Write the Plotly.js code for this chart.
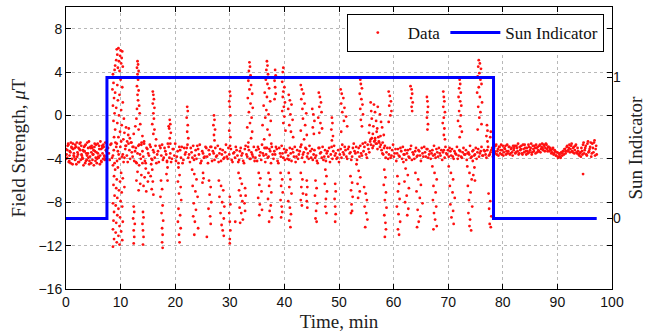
<!DOCTYPE html>
<html>
<head>
<meta charset="utf-8">
<script src="https://cdn.plot.ly/plotly-3.0.1.min.js"></script>
<style>html,body{margin:0;padding:0;background:#fff;}#chart{width:646px;height:334px;}</style>
</head>
<body>
<div id="chart"></div>
<script>
// ---- Data (time in min, field in microtesla) ----
// Before the sun period: dense band around -3.5
const preTimeA = [0,0.2,0.4,0.6,0.8,1,1.2,1.4,1.6,1.8,
  2,2.2,2.4,2.6,2.8,3,3.2,3.4,3.6,3.8,
  4,4.2,4.4,4.6,4.8,5,5.2,5.4,5.6,5.8,
  6,6.2,6.4,6.6,6.8,7,7.2,7.4];
const preFieldA = [-3.1,-3.9,-2.6,-4.2,-3.4,-2.9,-4.5,-3.7,-3.0,-4.0,
  -2.5,-3.6,-4.3,-3.2,-2.8,-3.9,-4.6,-3.3,-2.7,-4.1,
  -3.5,-2.4,-3.8,-4.4,-3.0,-3.6,-2.9,-4.2,-3.4,-2.6,
  -3.9,-4.5,-3.1,-2.8,-4.0,-3.7,-2.5,-3.3];
const preTimeB = [0.1,0.3,0.5,0.7,0.9,1.1,1.3,1.5,1.7,1.9,
  2.1,2.3,2.5,2.7,2.9,3.1,3.3,3.5,3.7,3.9,
  4.1,4.3,4.5,4.7,4.9,5.1,5.3,5.5,5.7,5.9,
  6.1,6.3,6.5,6.7,6.9,7.1,7.3];
const preFieldB = [-3.6,-2.8,-4.3,-3.3,-2.5,-4.0,-3.1,-3.8,-2.7,-4.5,
  -3.4,-3.0,-2.6,-4.1,-3.7,-3.2,-2.9,-4.4,-3.5,-2.5,
  -3.9,-4.2,-3.0,-2.8,-3.6,-4.6,-3.3,-2.7,-4.0,-3.8,
  -3.1,-2.4,-4.3,-3.5,-2.9,-4.1,-3.2];
const preTimeC = [0.05,0.25,0.45,0.65,0.85,1.05,1.25,1.45,1.65,1.85,
  2.05,2.25,2.45,2.65,2.85,3.05,3.25,3.45,3.65,3.85,
  4.05,4.25,4.45,4.65,4.85,5.05,5.25,5.45,5.65,5.85,
  6.05,6.25,6.45,6.65,6.85,7.05,7.25];
const preFieldC = [-4.0,-3.2,-2.7,-3.7,-4.4,-3.0,-2.6,-3.5,-4.1,-2.9,
  -3.8,-4.3,-3.1,-2.5,-3.6,-4.0,-3.3,-2.8,-4.2,-3.7,
  -3.0,-4.5,-2.9,-3.4,-4.1,-3.2,-2.6,-3.9,-4.4,-3.5,
  -2.8,-3.7,-4.2,-3.0,-2.7,-3.8,-4.0];

// Sun period: baseline band
const sunTimeA = [7.7,8,8.3,8.6,8.9,9.2,9.5,9.8,10.1,10.4,
  10.7,11,11.3,11.6,11.9,12.2,12.5,12.8,13.1,13.4,
  13.7,14,14.3,14.6,14.9,15.2,15.5,15.8,16.1,16.4,
  16.7,17,17.3,17.6,17.9,18.2,18.5,18.8,19.1,19.4,
  19.7,20,20.3,20.6,20.9,21.2,21.5,21.8,22.1,22.4,
  22.7,23,23.3,23.6,23.9,24.2,24.5,24.8,25.1,25.4,
  25.7,26,26.3,26.6,26.9,27.2,27.5,27.8,28.1,28.4,
  28.7,29,29.3,29.6,29.9,30.2,30.5,30.8,31.1,31.4,
  31.7,32,32.3,32.6,32.9,33.2,33.5,33.8,34.1,34.4,
  34.7,35,35.3,35.6,35.9,36.2,36.5,36.8,37.1,37.4,
  37.7,38,38.3,38.6,38.9,39.2,39.5,39.8,40.1,40.4,
  40.7,41,41.3,41.6,41.9,42.2,42.5,42.8,43.1,43.4,
  43.7,44,44.3,44.6,44.9,45.2,45.5,45.8,46.1,46.4,
  46.7,47,47.3,47.6,47.9,48.2,48.5,48.8,49.1,49.4,
  49.7,50,50.3,50.6,50.9,51.2,51.5,51.8,52.1,52.4,
  52.7,53,53.3,53.6,53.9,54.2,54.5,54.8,55.1,55.4,
  55.7,56,56.3,56.6,56.9,57.2,57.5,57.8,58.1,58.4,
  58.7,59,59.3,59.6,59.9,60.2,60.5,60.8,61.1,61.4,
  61.7,62,62.3,62.6,62.9,63.2,63.5,63.8,64.1,64.4,
  64.7,65,65.3,65.6,65.9,66.2,66.5,66.8,67.1,67.4,
  67.7,68,68.3,68.6,68.9,69.2,69.5,69.8,70.1,70.4,
  70.7,71,71.3,71.6,71.9,72.2,72.5,72.8,73.1,73.4,
  73.7,74,74.3,74.6,74.9,75.2,75.5,75.8,76.1,76.4,
  76.7,77,77.3,77.6,77.9,78.2];
const sunFieldA = [-3.0,-4.1,-2.6,-3.7,-4.4,-2.9,-3.3,-4.0,-2.4,-3.6,
  -3.9,-2.8,-4.3,-3.2,-2.5,-3.8,-4.2,-3.0,-3.5,-2.7,
  -4.0,-3.3,-2.6,-4.4,-3.1,-3.7,-2.9,-4.1,-3.4,-2.8,
  -3.6,-4.3,-3.0,-2.7,-3.9,-3.3,-4.2,-2.9,-3.5,-4.0,
  -3.1,-2.6,-3.8,-4.4,-3.2,-2.9,-4.1,-3.6,-3.0,-3.9,
  -4.3,-3.4,-2.8,-3.7,-4.0,-3.1,-2.7,-4.2,-3.5,-3.8,
  -3.0,-4.4,-3.6,-2.9,-3.3,-4.1,-3.8,-2.8,-3.5,-4.2,
  -3.2,-3.9,-2.7,-4.0,-3.6,-3.1,-4.3,-3.4,-2.9,-3.7,
  -4.1,-3.0,-3.5,-4.4,-2.8,-3.8,-3.2,-4.0,-3.6,-2.9,
  -3.9,-4.2,-3.1,-3.4,-2.7,-3.7,-4.3,-3.0,-3.8,-3.3,
  -2.9,-4.0,-3.6,-3.1,-4.4,-3.5,-2.8,-3.9,-4.1,-3.2,
  -3.7,-3.0,-4.2,-3.4,-2.9,-3.8,-4.0,-3.3,-2.7,-3.6,
  -4.3,-3.1,-3.5,-2.8,-3.9,-4.1,-3.2,-3.7,-4.4,-3.0,
  -3.4,-2.9,-3.8,-4.2,-3.3,-3.0,-3.6,-4.0,-2.8,-3.5,
  -3.9,-4.3,-3.1,-2.7,-3.6,-3.2,-4.0,-2.9,-3.4,-3.8,
  -2.6,-3.5,-4.1,-3.0,-2.8,-3.7,-3.3,-2.5,-3.9,-3.1,
  -2.4,-2.1,-2.8,-2.3,-2.6,-2.0,-2.9,-3.2,-3.6,-2.8,
  -3.4,-4.0,-3.0,-3.7,-2.7,-3.5,-4.2,-3.1,-3.8,-3.3,
  -2.9,-3.6,-4.1,-3.2,-3.9,-2.8,-3.4,-4.0,-3.0,-3.7,
  -3.3,-4.2,-3.5,-2.9,-3.8,-3.1,-3.6,-4.0,-3.2,-2.8,
  -3.9,-3.4,-3.0,-3.7,-4.1,-3.2,-2.9,-3.6,-3.8,-3.3,
  -3.1,-4.0,-3.5,-2.9,-3.7,-3.3,-3.9,-3.0,-3.6,-4.1,
  -3.4,-2.8,-3.8,-3.2,-3.6,-4.0,-3.1,-3.5,-2.9,-3.7,
  -3.3,-3.9,-2.9,-3.6,-3.2,-3.8];
const sunTimeB = [7.85,8.15,8.45,8.75,9.05,9.35,9.65,9.95,10.25,10.55,
  10.85,11.15,11.45,11.75,12.05,12.35,12.65,12.95,13.25,13.55,
  13.85,14.15,14.45,14.75,15.05,15.35,15.65,15.95,16.25,16.55,
  16.85,17.15,17.45,17.75,18.05,18.35,18.65,18.95,19.25,19.55,
  19.85,20.15,20.45,20.75,21.05,21.35,21.65,21.95,22.25,22.55,
  22.85,23.15,23.45,23.75,24.05,24.35,24.65,24.95,25.25,25.55,
  25.85,26.15,26.45,26.75,27.05,27.35,27.65,27.95,28.25,28.55,
  28.85,29.15,29.45,29.75,30.05,30.35,30.65,30.95,31.25,31.55,
  31.85,32.15,32.45,32.75,33.05,33.35,33.65,33.95,34.25,34.55,
  34.85,35.15,35.45,35.75,36.05,36.35,36.65,36.95,37.25,37.55,
  37.85,38.15,38.45,38.75,39.05,39.35,39.65,39.95,40.25,40.55,
  40.85,41.15,41.45,41.75,42.05,42.35,42.65,42.95,43.25,43.55,
  43.85,44.15,44.45,44.75,45.05,45.35,45.65,45.95,46.25,46.55,
  46.85,47.15,47.45,47.75,48.05,48.35,48.65,48.95,49.25,49.55,
  49.85,50.15,50.45,50.75,51.05,51.35,51.65,51.95,52.25,52.55,
  52.85,53.15,53.45,53.75,54.05,54.35,54.65,54.95,55.25,55.55,
  55.85,56.15,56.45,56.75,57.05,57.35,57.65,57.95,58.25,58.55,
  58.85,59.15,59.45,59.75,60.05,60.35,60.65,60.95,61.25,61.55,
  61.85,62.15,62.45,62.75,63.05,63.35,63.65,63.95,64.25,64.55,
  64.85,65.15,65.45,65.75,66.05,66.35,66.65,66.95,67.25,67.55,
  67.85,68.15,68.45,68.75,69.05,69.35,69.65,69.95,70.25,70.55,
  70.85,71.15,71.45,71.75,72.05,72.35,72.65,72.95,73.25,73.55,
  73.85,74.15,74.45,74.75,75.05,75.35,75.65,75.95,76.25,76.55,
  76.85,77.15,77.45,77.75,78.05];
const sunFieldB = [-3.5,-2.7,-3.9,-3.2,-2.5,-4.2,-3.6,-2.9,-3.8,-4.3,
  -3.1,-3.7,-2.6,-4.0,-3.4,-2.9,-3.3,-4.4,-2.8,-3.6,
  -2.5,-3.8,-4.2,-3.0,-3.5,-2.7,-4.0,-3.2,-3.9,-4.4,
  -3.3,-2.8,-3.7,-4.1,-3.0,-3.6,-2.6,-3.9,-4.3,-3.1,
  -3.7,-4.2,-3.3,-2.9,-3.9,-4.4,-3.0,-3.4,-2.7,-3.6,
  -3.0,-3.9,-4.1,-3.2,-2.8,-3.6,-4.4,-3.3,-3.9,-2.9,
  -3.8,-3.2,-2.9,-4.2,-3.5,-3.0,-3.7,-4.3,-3.1,-3.6,
  -4.0,-3.4,-3.8,-3.0,-2.8,-4.1,-3.5,-3.9,-3.2,-4.3,
  -3.3,-3.7,-4.2,-3.1,-3.6,-2.9,-4.0,-3.4,-3.8,-4.2,
  -3.2,-2.9,-3.7,-4.1,-3.5,-3.0,-3.6,-3.9,-3.1,-4.4,
  -3.6,-3.3,-2.9,-4.2,-3.0,-3.8,-3.5,-3.1,-3.4,-4.0,
  -4.1,-3.5,-3.1,-3.8,-4.3,-3.2,-3.6,-2.9,-3.9,-3.4,
  -3.0,-3.8,-4.0,-3.3,-3.1,-3.6,-3.9,-4.2,-3.0,-3.5,
  -3.9,-4.1,-3.2,-3.5,-3.8,-4.3,-2.9,-3.3,-3.7,-4.0,
  -3.2,-3.6,-3.9,-3.4,-2.9,-3.8,-3.1,-3.5,-4.1,-3.0,
  -3.3,-2.9,-3.4,-3.8,-3.5,-2.6,-2.9,-3.6,-2.7,-3.4,
  -2.7,-3.0,-2.4,-2.6,-3.1,-2.5,-2.7,-3.5,-3.0,-3.9,
  -3.0,-3.6,-3.9,-3.2,-3.8,-3.1,-3.5,-3.7,-3.0,-4.0,
  -3.6,-3.2,-3.5,-3.8,-3.1,-4.1,-3.6,-3.3,-3.8,-3.2,
  -3.7,-3.0,-3.8,-3.4,-3.1,-3.9,-3.3,-3.5,-3.7,-3.6,
  -3.1,-3.8,-3.5,-3.2,-3.4,-3.9,-3.5,-3.2,-3.0,-3.7,
  -3.8,-3.3,-3.6,-4.0,-3.2,-3.8,-3.4,-3.6,-3.2,-3.5,
  -3.6,-3.9,-3.3,-3.7,-3.0,-3.4,-3.8,-3.3,-3.7,-3.2,
  -3.6,-3.2,-3.7,-3.4,-3.0];

// Sun period: the vertical streaks of samples above and below the band [time, field]
const streakPoints = [
  [9.3,6.1],[9.6,6.2],[10.0,6.0],[10.3,5.9],[9.4,5.6],[9.9,5.5],[10.2,5.3],[9.2,5.1],[9.7,5.0],[10.1,4.8],[9.0,4.6],[9.5,4.4],[10.4,4.5],[8.9,4.2],[9.8,4.1],
  [8.6,3.8],[9.1,3.5],[10.0,3.3],[8.7,3.0],[9.4,2.8],[10.3,2.6],[8.5,2.4],[9.0,2.1],[9.8,1.9],[8.8,1.6],[9.5,1.4],[10.4,1.2],[8.6,0.9],[9.2,0.7],[10.1,0.5],[8.9,0.2],[9.7,0.0],[10.6,-0.3],[8.7,-0.5],[9.4,-0.7],[10.2,-0.9],[11.0,-1.1],[9.0,-1.3],[9.9,-1.5],[10.7,-1.6],[11.4,-1.8],[9.6,-2.0],[10.5,-2.2],[11.2,-2.4],[12.0,-2.5],[10.9,-2.8],[11.7,-2.1],[12.4,-1.7],[11.5,-1.2],[12.2,-2.9],[8.8,-2.0],[9.3,-2.6],
  [13.1,5.0],[13.2,4.7],[13.0,4.4],[13.3,4.1],[13.1,3.8],[13.2,3.3],[13.0,2.7],[13.3,2.3],[13.1,1.9],[13.2,1.4],[13.4,0.9],[13.0,0.6],[13.5,0.2],[12.9,-0.3],[13.6,-0.8],[13.3,-1.3],[14.0,-1.9],[12.7,-1.0],[14.3,-2.4],[13.8,-2.7],
  [15.9,2.2],[16.0,1.9],[16.1,1.5],[15.9,1.1],[16.2,0.7],[16.0,0.2],[16.1,-0.3],[15.8,-0.8],[16.2,-1.3],[16.0,-1.7],[16.5,-2.2],
  [19.0,-0.4],[19.1,-0.8],[18.9,-1.2],[19.2,-1.6],[19.0,-2.1],[19.1,-2.6],[18.8,-1.0],
  [22.2,0.8],[22.3,0.4],[22.1,-0.2],[22.3,-0.9],[22.2,-1.5],[22.4,-2.1],
  [27.1,0.0],[27.2,-0.4],[27.0,-0.9],[27.3,-1.3],[27.1,-1.8],[27.2,-2.3],
  [30.0,2.2],[30.1,1.8],[29.9,1.3],[30.0,0.8],[30.1,0.0],[30.0,-0.7],[29.9,-1.4],[30.1,-2.0],
  [33.6,4.9],[33.7,4.5],[33.5,4.1],[33.8,3.7],[33.4,3.2],[33.9,2.8],[33.6,2.4],[34.1,2.0],[33.3,1.6],[33.8,1.1],[34.2,0.7],[33.5,0.3],[34.0,-0.2],[33.7,-0.7],[33.2,-1.1],[34.1,-1.5],[33.9,-2.1],[33.4,-2.5],
  [36.8,5.0],[36.9,4.6],[36.7,4.2],[37.0,3.8],[36.6,3.3],[36.9,2.9],[37.2,2.5],[36.4,2.1],[36.8,1.7],[37.4,1.3],[36.2,0.9],[36.7,0.5],[37.1,0.1],[36.5,-0.2],[37.5,-0.5],[36.0,-0.9],[36.9,-1.3],[37.3,-1.8],[36.3,-2.2],[37.6,-2.6],[36.6,-3.0],
  [38.3,4.2],[38.4,3.7],[38.2,3.2],[38.3,2.6],[38.4,2.0],[38.2,1.5],
  [39.8,4.4],[39.7,4.0],[39.9,3.5],[39.6,3.1],[40.0,2.6],[39.8,2.2],[39.7,1.7],[40.1,1.2],[39.9,0.8],[39.6,0.4],[40.0,-0.1],[39.8,-0.7],[40.2,-1.4],
  [40.8,1.9],[41.0,1.4],[41.3,1.0],[40.7,0.6],[41.1,0.1],[41.5,-0.4],[40.9,-0.9],[41.2,-1.5],[41.6,-2.0],
  [43.0,2.8],[43.2,2.4],[43.5,2.0],[43.1,1.5],[43.7,1.1],[43.3,0.6],[44.0,0.2],[43.4,-0.3],[43.8,-0.9],[43.0,-1.4],[44.1,-1.8],[43.6,-2.2],
  [45.1,0.6],[45.3,0.1],[45.5,-0.5],[45.2,-1.1],[45.4,-1.7],
  [46.3,2.1],[46.5,1.7],[46.7,1.2],[46.4,0.8],[46.8,0.3],[46.2,-0.2],[46.6,-0.7],[46.9,-1.2],[46.4,-1.6],
  [48.7,-0.2],[48.8,-0.7],[48.6,-1.3],[48.9,-1.9],[48.7,-2.3],
  [50.3,2.4],[50.5,2.0],[50.8,1.6],[50.4,1.1],[51.0,0.7],[50.6,0.3],[51.3,-0.1],[50.9,-0.5],[51.5,-1.0],[50.4,-1.5],
  [53.9,3.3],[54.0,2.9],[54.2,2.5],[53.8,2.0],[54.1,1.5],[54.3,1.0],[53.9,0.6],[54.4,0.1],[54.0,-0.4],[54.2,-1.0],
  [55.8,1.2],[56.4,1.0],[57.1,0.8],[55.9,0.4],[56.6,0.3],[57.5,0.1],[56.0,-0.3],[56.8,-0.5],[57.7,-0.6],[55.6,-0.9],[56.3,-1.0],[57.0,-1.2],[57.9,-1.1],[55.5,-1.6],[56.2,-1.7],[56.9,-1.5],[57.6,-1.9],[58.2,-1.8],[55.8,-2.2],[56.6,-2.1],[57.3,-2.4],[58.0,-2.5],
  [59.1,2.2],[59.3,1.8],[59.5,1.3],[59.2,0.9],[59.6,0.4],[59.4,0.0],[59.1,-0.6],
  [63.1,2.7],[63.3,2.4],[63.4,2.0],[63.2,1.6],[63.5,1.2],[63.3,0.8],[63.4,0.4],
  [66.1,1.7],[66.2,1.3],[66.3,0.8],[66.2,0.3],[66.1,-0.2],[66.3,-0.8],[66.2,-1.3],
  [69.1,2.2],[69.2,1.7],[69.3,1.3],[69.1,0.8],[69.4,0.3],[69.2,-0.2],[69.0,-0.7],[69.3,-1.2],[69.2,-1.8],[69.4,-2.2],
  [72.1,3.3],[72.2,2.9],[72.0,2.5],[72.3,2.1],[71.9,1.7],[72.2,1.3],[72.4,0.9],[72.0,0.4],[72.3,0.0],[71.8,-0.5],[72.2,-1.0],[72.5,-1.5],[72.1,-2.0],
  [75.6,5.1],[75.8,4.8],[75.5,4.5],[76.0,4.3],[75.7,3.9],[75.4,3.6],[75.9,3.3],[76.1,2.9],[75.6,2.6],[75.3,2.1],[75.8,1.7],[76.2,1.2],[75.5,0.8],[75.9,0.3],[75.7,-0.2],[76.1,-0.8],[75.4,-1.3],
  [77.1,-0.9],[77.2,-1.4],[77.0,-1.9],[77.2,-2.4],[77.8,-1.5],[77.7,-2.0],
  [8.6,-4.6],[9.0,-5.0],[9.5,-4.8],[10.1,-5.3],[8.8,-5.6],[9.3,-5.9],[9.9,-6.1],[10.4,-5.8],[8.7,-6.4],[9.2,-6.7],[9.7,-6.9],[10.2,-7.1],[10.7,-6.6],[8.9,-7.4],[9.4,-7.6],[10.0,-7.9],[8.6,-8.1],[9.1,-8.3],[9.6,-8.6],[10.3,-8.4],[8.8,-8.9],[9.4,-9.2],[9.9,-9.4],[8.7,-9.7],[9.2,-9.9],[9.8,-10.2],[10.4,-9.8],[8.6,-10.5],[9.1,-10.8],[9.6,-11.1],[10.1,-10.7],[8.8,-11.4],[9.3,-11.7],[9.8,-11.9],[8.6,-12.1],[10.3,-11.5],
  [12.4,-8.4],[12.5,-8.9],[12.3,-9.5],[12.6,-10.0],[12.4,-10.6],[12.5,-11.2],[12.4,-11.8],
  [12.8,-4.3],[13.4,-4.6],[14.0,-4.4],[14.6,-4.9],[13.1,-5.2],[13.8,-5.5],[14.4,-5.7],[15.1,-5.3],[12.9,-6.0],[13.6,-6.3],[14.2,-6.5],[15.0,-6.1],[13.3,-6.9],[14.7,-7.0],
  [14.1,-8.9],[14.2,-9.4],[14.0,-10.0],[14.1,-10.6],[14.2,-11.2],[14.1,-11.9],
  [15.6,-4.5],[15.8,-5.0],[15.5,-5.6],[15.9,-6.1],[15.7,-6.8],[16.0,-7.3],
  [17.4,-6.0],[17.6,-6.8],[17.3,-7.5],[17.7,-8.3],[17.5,-9.0],[17.8,-9.7],[17.6,-10.4],[17.7,-11.0],[17.6,-11.7],[17.7,-12.2],
  [18.5,-4.3],[18.6,-4.8],[18.4,-5.4],[18.6,-6.0],
  [20.6,-4.8],[20.8,-5.5],[20.5,-6.1],[21.0,-6.6],[20.7,-7.2],[21.1,-7.8],[20.6,-8.6],[20.9,-9.2],[20.5,-9.8],[21.0,-10.4],[20.7,-11.0],[20.8,-11.7],
  [23.1,-5.0],[23.5,-5.4],[23.9,-5.9],[23.2,-6.5],[23.7,-7.0],[24.1,-7.5],[23.4,-8.1],[23.8,-8.7],[23.3,-9.3],[23.6,-9.8],[24.2,-10.4],[23.5,-11.0],
  [25.1,-5.3],[25.2,-5.8],[25.0,-6.2],[25.8,-11.2],
  [26.2,-6.0],[26.5,-6.6],[26.3,-7.3],[26.6,-8.0],[26.1,-8.6],[26.4,-9.3],[26.5,-10.0],
  [28.0,-6.0],[28.4,-6.5],[28.8,-6.9],[28.1,-7.5],[28.6,-8.0],[29.0,-8.4],[28.3,-9.0],[28.9,-9.5],[28.5,-10.1],[28.7,-10.6],[28.9,-11.1],
  [30.0,-7.5],[30.1,-8.2],[29.9,-9.0],[30.0,-9.8],[30.1,-10.6],[30.0,-11.4],[30.0,-11.8],[31.0,-9.8],
  [31.6,-5.3],[31.9,-5.8],[32.2,-6.3],[31.7,-6.9],[32.0,-7.4],[32.3,-7.9],[31.8,-8.5],[32.1,-9.0],[32.4,-9.6],[31.9,-9.9],
  [32.8,-6.7],[32.9,-7.4],[32.7,-8.1],[32.8,-8.8],
  [35.3,-5.3],[35.6,-5.8],[35.4,-6.4],[35.8,-7.0],[35.2,-7.6],[35.5,-8.2],[35.9,-8.7],[35.4,-9.2],
  [37.1,-5.3],[37.4,-5.9],[37.2,-6.5],[37.6,-7.1],[37.0,-7.7],[37.5,-8.3],[37.3,-8.8],[37.7,-9.4],[37.2,-9.8],
  [39.3,-5.3],[39.6,-5.9],[39.4,-6.5],[39.7,-7.1],[39.3,-7.8],[39.5,-8.4],[39.6,-8.9],[39.4,-9.4],
  [40.8,-5.3],[41.1,-5.9],[40.9,-6.6],[41.3,-7.2],[40.7,-7.9],[41.0,-8.5],[41.2,-9.1],[40.9,-9.7],[41.1,-10.3],
  [43.0,-5.3],[43.3,-5.9],[43.1,-6.6],[43.4,-7.2],[43.0,-7.8],[43.2,-8.3],
  [44.1,-6.0],[44.2,-6.6],[44.0,-7.3],[44.1,-7.9],[44.2,-8.5],
  [45.7,-6.0],[45.9,-6.7],[45.6,-7.4],[46.0,-8.1],[45.8,-8.8],[45.7,-9.5],[45.9,-9.8],
  [47.5,-5.0],[47.7,-5.6],[47.4,-6.3],[47.8,-7.0],[47.6,-7.7],[47.5,-8.4],[47.7,-9.0],
  [49.3,-6.3],[49.4,-7.0],[49.2,-7.7],[49.3,-8.4],[49.4,-9.1],[49.3,-9.8],
  [52.1,-5.6],[52.4,-6.2],[52.2,-6.9],[52.5,-7.5],[52.3,-8.2],[52.4,-8.8],[52.2,-9.0],
  [53.2,-4.5],[53.6,-5.1],[53.9,-5.7],[53.4,-6.3],[53.8,-7.0],[53.5,-7.6],
  [54.6,-6.6],[54.9,-7.2],[55.1,-7.8],[54.7,-8.4],[55.0,-9.0],[55.2,-9.6],[54.8,-10.3],
  [58.3,-5.0],[58.5,-5.7],[58.2,-6.4],[58.6,-7.1],[58.4,-7.8],[58.7,-8.5],[58.3,-9.2],[58.5,-9.9],[58.6,-10.5],[58.4,-11.2],
  [60.7,-5.6],[61.0,-6.3],[60.8,-7.0],[61.1,-7.7],[60.6,-8.4],[60.9,-9.1],[61.2,-9.8],[60.8,-10.5],[61.0,-11.0],
  [61.8,-4.3],[62.2,-4.9],[62.6,-5.5],[62.0,-6.1],[62.8,-6.7],[62.4,-7.4],[62.1,-8.0],[62.7,-8.6],[62.5,-9.2],
  [64.0,-5.3],[64.5,-5.9],[65.0,-6.4],[64.2,-7.0],[64.8,-7.6],[65.3,-8.1],[64.4,-8.7],[64.9,-9.3],[64.6,-9.8],[64.3,-10.3],
  [67.1,-4.7],[67.5,-5.3],[67.9,-5.9],[67.3,-6.5],[67.7,-7.1],[67.2,-7.8],[67.8,-8.4],[67.4,-9.0],[67.6,-9.6],[67.9,-10.2],[67.3,-10.5],
  [70.1,-4.7],[70.5,-5.3],[70.9,-5.9],[70.3,-6.5],[70.8,-7.1],[71.2,-7.6],[70.4,-8.2],[70.9,-8.8],[70.6,-9.4],[71.0,-10.0],
  [73.5,-4.7],[73.9,-5.3],[74.3,-5.9],[73.6,-6.5],[74.1,-7.1],[73.8,-7.8],[74.4,-8.4],[73.7,-9.0],[74.0,-9.6],[73.9,-10.2],[74.2,-10.6],
  [74.5,-4.2],[74.8,-4.8],[74.6,-5.5],[74.9,-6.0],
  [77.4,-7.2],[77.7,-7.9],[77.5,-8.6],[77.9,-9.3],[77.6,-10.0],[77.8,-10.3]
];

// After the sun period: band around -3.1, shallow dip near 90.5 min
const postTimeA = [78.4,78.6,78.8,79,79.2,79.4,79.6,79.8,80,80.2,
  80.4,80.6,80.8,81,81.2,81.4,81.6,81.8,82,82.2,
  82.4,82.6,82.8,83,83.2,83.4,83.6,83.8,84,84.2,
  84.4,84.6,84.8,85,85.2,85.4,85.6,85.8,86,86.2,
  86.4,86.6,86.8,87,87.2,87.4,87.6,87.8,88,88.2,
  88.4,88.6,88.8,89,89.2,89.4,89.6,89.8,90,90.2,
  90.4,90.6,90.8,91,91.2,91.4,91.6,91.8,92,92.2,
  92.4,92.6,92.8,93,93.2,93.4,93.6,93.8,94,94.2,
  94.4,94.6,94.8,95,95.2,95.4,95.6,95.8,96,96.2,
  96.4,96.6,96.8,97,97.2];
const postFieldA = [-3.0,-3.5,-2.7,-3.3,-3.7,-2.9,-3.2,-3.6,-2.8,-3.4,
  -3.1,-3.6,-2.7,-3.3,-2.9,-3.5,-3.0,-3.7,-3.2,-2.8,
  -3.4,-3.0,-2.6,-3.5,-3.2,-2.8,-3.6,-3.1,-2.7,-3.3,
  -3.0,-3.5,-2.9,-3.2,-2.6,-3.4,-3.1,-2.8,-3.5,-3.0,
  -2.9,-3.3,-2.7,-3.1,-2.6,-3.2,-2.8,-3.0,-2.7,-3.3,
  -2.9,-3.1,-3.2,-3.4,-3.0,-3.5,-3.3,-3.7,-3.4,-3.8,
  -3.6,-3.9,-3.5,-3.3,-3.6,-3.1,-3.3,-2.8,-3.2,-2.7,
  -3.1,-2.6,-3.4,-2.9,-3.2,-2.7,-3.5,-3.3,-3.7,-3.4,
  -3.0,-3.6,-2.5,-3.2,-2.8,-3.7,-2.4,-3.3,-2.9,-3.8,
  -2.6,-3.4,-2.3,-3.1,-3.6];
const postTimeB = [78.5,78.7,78.9,79.1,79.3,79.5,79.7,79.9,80.1,80.3,
  80.5,80.7,80.9,81.1,81.3,81.5,81.7,81.9,82.1,82.3,
  82.5,82.7,82.9,83.1,83.3,83.5,83.7,83.9,84.1,84.3,
  84.5,84.7,84.9,85.1,85.3,85.5,85.7,85.9,86.1,86.3,
  86.5,86.7,86.9,87.1,87.3,87.5,87.7,87.9,88.1,88.3,
  88.5,88.7,88.9,89.1,89.3,89.5,89.7,89.9,90.1,90.3,
  90.5,90.7,90.9,91.1,91.3,91.5,91.7,91.9,92.1,92.3,
  92.5,92.7,92.9,93.1,93.3,93.5,93.7,93.9,94.1,94.3,
  94.5,94.7,94.9,95.1,95.3,95.5,95.7,95.9,96.1,96.3,
  96.5,96.7,96.9,97.1];
const postFieldB = [-3.3,-2.8,-3.6,-3.1,-2.9,-3.5,-2.7,-3.2,-3.7,-3.0,
  -2.8,-3.3,-3.5,-2.9,-3.6,-3.1,-3.4,-2.8,-3.0,-3.5,
  -2.8,-3.3,-3.6,-2.9,-3.1,-3.5,-2.7,-3.4,-3.0,-3.6,
  -3.3,-2.7,-3.4,-3.0,-3.6,-2.8,-3.3,-3.0,-2.7,-3.4,
  -3.2,-2.8,-3.4,-2.9,-3.0,-2.7,-3.3,-2.6,-3.1,-2.9,
  -3.3,-3.0,-3.5,-3.1,-3.6,-3.2,-3.7,-3.4,-3.9,-3.5,
  -3.8,-3.4,-3.7,-3.3,-3.1,-3.5,-2.9,-3.3,-3.0,-3.4,
  -2.8,-3.3,-3.0,-3.5,-2.8,-3.4,-3.0,-3.6,-3.5,-3.8,
  -3.3,-2.7,-3.5,-3.0,-3.6,-2.6,-3.4,-3.1,-2.5,-3.5,
  -3.0,-2.5,-3.7,-2.8];
const outlierTime = [94.7];
const outlierField = [-5.4];

// Sun indicator (right axis)
const sunIndTime = [0, 7.5, 7.5, 78.3, 78.3, 97.2];
const sunIndValue = [0, 0, 1, 1, 0, 0];

// Axis ticks
const xTicks = [0,10,20,30,40,50,60,70,80,90,100];
const yTicks = [-16,-12,-8,-4,0,4,8];
const y2Ticks = [0,1];

// ---- Build traces ----
function zipX(t, f) { const n = Math.min(t.length, f.length); return t.slice(0, n); }
function zipY(t, f) { const n = Math.min(t.length, f.length); return f.slice(0, n); }
const dataX = [].concat(
  zipX(preTimeA, preFieldA), zipX(preTimeB, preFieldB), zipX(preTimeC, preFieldC),
  zipX(sunTimeA, sunFieldA), zipX(sunTimeB, sunFieldB),
  streakPoints.map(p => p[0]),
  zipX(postTimeA, postFieldA), zipX(postTimeB, postFieldB), outlierTime);
const dataY = [].concat(
  zipY(preTimeA, preFieldA), zipY(preTimeB, preFieldB), zipY(preTimeC, preFieldC),
  zipY(sunTimeA, sunFieldA), zipY(sunTimeB, sunFieldB),
  streakPoints.map(p => p[1]),
  zipY(postTimeA, postFieldA), zipY(postTimeB, postFieldB), outlierField);

const serif = 'Liberation Serif, Times New Roman, serif';
const sans = 'Liberation Sans, Arial, sans-serif';

const traces = [
  { x: dataX, y: dataY, type: 'scatter', mode: 'markers', name: 'Data',
    marker: { color: '#ff1010', size: 2.8, line: { width: 0 } }, xaxis: 'x', yaxis: 'y' },
  { x: sunIndTime, y: sunIndValue, type: 'scatter', mode: 'lines', name: 'Sun Indicator',
    line: { color: '#0000ff', width: 3 }, xaxis: 'x', yaxis: 'y2' }
];

const axisCommon = {
  ticks: 'inside', ticklen: 5, tickwidth: 1, tickcolor: '#000',
  showline: true, linecolor: '#000', linewidth: 1, mirror: 'ticks',
  zeroline: false, showgrid: true, gridcolor: '#b8b8b8', griddash: 'dot', gridwidth: 1,
  tickfont: { family: sans, size: 14, color: '#111' }
};

const layout = {
  width: 646, height: 334,
  margin: { l: 66, r: 34, t: 7, b: 45, pad: 0 },
  paper_bgcolor: '#fff', plot_bgcolor: '#fff',
  showlegend: true,
  legend: { orientation: 'h', x: 0.985, xanchor: 'right', y: 0.975, yanchor: 'top',
    bgcolor: '#fff', bordercolor: '#000', borderwidth: 1, itemwidth: 50,
    font: { family: serif, size: 17, color: '#111' }, tracegroupgap: 0 },
  xaxis: Object.assign({}, axisCommon, {
    range: [0, 100], tickvals: xTicks,
    title: { text: 'Time, min', font: { family: serif, size: 19, color: '#222' }, standoff: 5 }
  }),
  yaxis: Object.assign({}, axisCommon, {
    range: [-16, 10], tickvals: yTicks,
    title: { text: 'Field Strength, <i>μ</i>T', font: { family: serif, size: 19, color: '#222' }, standoff: 7 }
  }),
  yaxis2: {
    overlaying: 'y', side: 'right', range: [-0.5, 1.5], tickvals: y2Ticks,
    ticks: 'inside', ticklen: 5, tickcolor: '#000', showline: false, showgrid: false, zeroline: false,
    tickfont: { family: sans, size: 14, color: '#111' },
    title: { text: 'Sun Indicator', font: { family: serif, size: 19, color: '#222' }, standoff: 8 }
  }
};

Plotly.newPlot('chart', traces, layout, { displayModeBar: false, staticPlot: true });
</script>
</body>
</html>
